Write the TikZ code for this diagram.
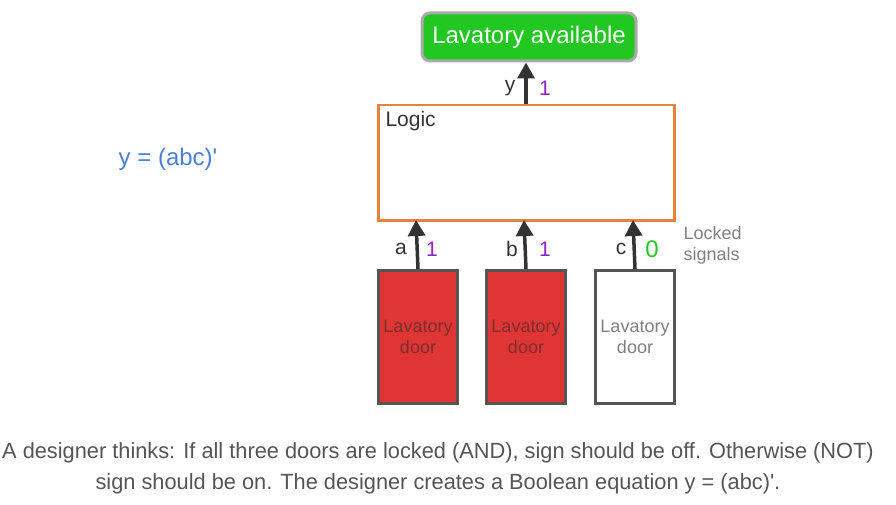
\documentclass[tikz,border=0pt]{standalone}
\usepackage{fontspec}
\setmainfont{Liberation Sans}
\usetikzlibrary{arrows.meta}
\definecolor{sgreen}{HTML}{22C722}
\definecolor{sgray}{HTML}{AAAAAA}
\definecolor{orng}{HTML}{E8813A}
\definecolor{dred}{HTML}{E03535}
\definecolor{dborder}{HTML}{555555}
\definecolor{dtext}{HTML}{7A2E2E}
\definecolor{purp}{HTML}{8E24C0}
\definecolor{lgreen}{HTML}{22C722}
\definecolor{eqblue}{HTML}{4A7FD8}
\definecolor{captxt}{HTML}{555555}
\definecolor{arr}{HTML}{333333}
\begin{document}
\begin{tikzpicture}[x=1pt,y=-1pt,
  sig/.style={draw=arr,line width=3.5pt,-{Triangle[length=16pt,width=17pt]}},
  door/.style={draw=dborder,line width=3pt,minimum width=79pt,minimum height=133pt,inner sep=0pt,anchor=north west,align=center,font=\fontsize{18}{21}\selectfont},
  lbl/.style={font=\fontsize{21}{24}\selectfont,text=arr},
  val/.style={font=\fontsize{21}{24}\selectfont}]
\useasboundingbox (0,0) rectangle (896,505);
\node[draw=sgray,line width=3pt,fill=sgreen,rounded corners=8pt,minimum width=214pt,minimum height=48pt,inner sep=0pt,text=white,font=\fontsize{24}{28}\selectfont] (sign) at (529,37) {Lavatory available};
\node[draw=orng,line width=2.5pt,minimum width=296pt,minimum height=115pt,inner sep=0pt,anchor=north west] (logic) at (377,104) {};
\node[anchor=west,font=\fontsize{21}{24}\selectfont,text=arr] (logiclbl) at (382,121) {Logic};
\node[door,fill=dred,text=dtext] (d1) at (377,269) {Lavatory\\door};
\node[door,fill=dred,text=dtext] (d2) at (485,269) {Lavatory\\door};
\node[door,fill=white,text=gray] (d3) at (594,269) {Lavatory\\door};
\coordinate (la) at (416,220);
\coordinate (lb) at (524,220);
\coordinate (lc) at (633,220);
\coordinate (ly) at (526,104);
\draw[sig] (d1.north) -- (la);
\draw[sig] (d2.north) -- (lb);
\draw[sig] (d3.north) -- (lc);
\draw[sig] (ly) -- (sign.south -| ly);
\node[lbl] (ty) at (510,88) {y};
\node[val,text=purp] (vy) at (545,88) {1};
\node[lbl] (ta) at (401,249) {a};
\node[val,text=purp] (va) at (432,249) {1};
\node[lbl] (tb) at (512,249) {b};
\node[val,text=purp] (vb) at (545,249) {1};
\node[lbl] (tc) at (621,249) {c};
\node[val,text=lgreen,font=\fontsize{24}{26}\selectfont] (vc) at (652,249) {0};
\node[anchor=west,align=left,text=gray,font=\fontsize{18}{21}\selectfont] (locked) at (680,245) {Locked\\signals};
\node[text=eqblue,font=\fontsize{24}{28}\selectfont] (eq) at (168,159) {y = (abc)\textquotesingle};
\node[text=captxt,align=center,font=\fontsize{22}{31}\selectfont,xscale=0.99] (cap) at (438,468) {A designer thinks: If all three doors are locked (AND), sign should be off. Otherwise (NOT)\\sign should be on. The designer creates a Boolean equation y = (abc)\textquotesingle.};
\end{tikzpicture}
\end{document}
